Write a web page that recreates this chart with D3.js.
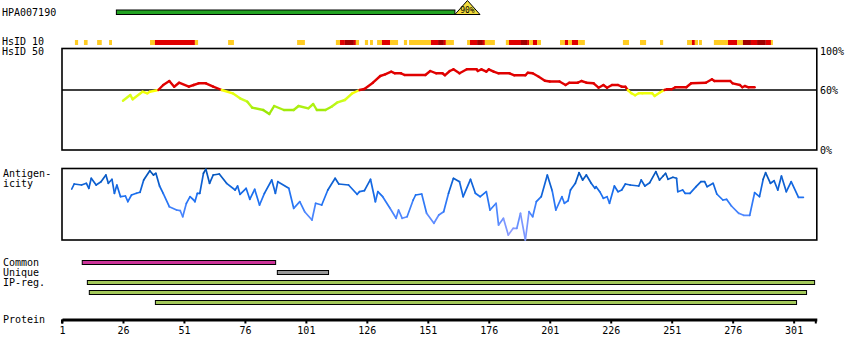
<!DOCTYPE html>
<html><head><meta charset="utf-8">
<script src="https://cdn.jsdelivr.net/npm/d3@7"></script>
<style>
body{margin:0;background:#fff;}
svg text{font-family:"DejaVu Sans Mono",monospace;font-size:10px;fill:#000;}
</style></head>
<body><svg id="c" width="850" height="360"></svg>
<script>
// ---------------- DATA ----------------
const antibodyName = "HPA007190";
const proteinLength = 310.5;
const tickValues = [1, 26, 51, 76, 101, 126, 151, 176, 201, 226, 251, 276, 301];
// antigen (PrEST) bar: [start, end] and identity triangle
const antigenBar = [23.3, 162.1];
const antigenTri = [162.1, 172.4];
const antigenIdentity = "90%";
// HsID 10 segments: [start, end, level] level 1 = low (orange), 2 = mid (red), 3 = high (dark red)
const hsid10 = [
  [6.3,7.6,1],[10.0,11.5,1],[15.4,17.3,1],[20.3,21.5,1],
  [37.1,39.1,1],[39.1,55.5,2],[55.5,56.8,1],
  [69.1,71.5,1],[97.4,100.6,1],
  [113.3,115.0,1],[115.0,117.0,2],[117.0,120.7,3],[120.7,121.5,2],[121.5,122.8,1],
  [125.2,126.5,1],[127.3,128.5,1],
  [130.2,132.2,1],[132.2,135.5,2],[135.5,138.8,1],
  [141.2,142.5,1],
  [143.3,152.3,1],[152.3,155.2,2],[155.2,157.6,3],[157.6,158.4,2],[158.4,161.7,1],
  [167.1,168.3,1],[168.3,171.2,2],[171.2,173.6,3],[173.6,174.4,2],[174.4,178.5,1],
  [183.0,184.3,1],[184.3,189.2,2],[189.2,191.7,3],[191.7,192.5,2],[192.5,194.1,1],[194.1,195.8,2],[195.8,197.4,1],
  [205.2,207.2,1],[207.2,208.5,2],[208.5,210.1,1],[210.1,212.6,2],[212.6,215.4,1],
  [231.0,233.5,1],[238.0,240.5,1],[246.2,247.5,1],
  [257.3,259.3,1],[259.3,260.5,2],[260.5,261.8,1],[262.2,263.4,1],
  [268.3,274.1,1],[274.1,277.8,2],[277.8,280.2,1],[280.2,283.5,3],[283.5,286.0,2],[286.0,289.6,3],[289.6,291.7,2],[291.7,292.5,1]
];
// HsID 50 identity (%) by residue
const hsid50Res = [26,29,30,34,36,37,40.5,42.5,45,47,49,53,55,57,60,63,66.5,71,74,77,79,83.5,86,88,92,96,98,102,104,105.5,109,111.5,114,117,120,123,125,128.5,131.5,133.5,136,137.5,140,141.5,150,152,154.5,157,158,160,161.5,164,167,171,171.5,173,175,176,178,180,184.5,186.5,191,192,194,196.5,199,201,205,207.5,209,212.5,214,216,219,221,223,224.5,226.5,229,230.5,232,233,234.5,236,237.5,239,243,244,246,248,249,251,252.5,257,259,265,267.5,268.5,275,276,279,280,281,282.5,285];
const hsid50Val = [49.3,55,50.7,58.3,56.7,58.3,60,65,69,63.3,67.3,63.3,65,66.7,66.7,63.3,60,56.7,51.7,48.3,42.3,40,36,44,40,40,44,41.7,46,40,40,43.3,47.7,50,56.7,60,61,67.3,74,75.7,78.3,76.7,76.7,75,75,79,76.7,76.7,74.7,79,80.7,76.7,80.7,80.7,79,80.7,78.3,80.7,78.3,76.7,76.7,74.7,74.7,77.3,76.7,73.3,69.3,68.5,68.5,65,67.3,67.3,69,67.3,66.7,62.3,65,62.3,65,65,63.3,63.3,60,56.7,54.7,56.7,56.7,56.7,54,57.3,60,60.7,60.7,62.7,62.7,66.7,67.3,70.7,69,69,66.7,65,62.7,64,62.7,62.7];
const hsid50Ticks = [100, 60, 0];
// Antigenicity score by residue
const antiRes = [5,6,9,11,12,13,15,17,19,20,21.5,22.5,23.5,25,27,28,29.5,31.5,33,34.5,37,38.5,39.5,41,42.5,45,48,49.5,50.5,52,53.5,55,55.5,56.5,57.5,59,60,61.5,63,65.5,68.5,72,73,74,76.5,78,80,82,84,87,88.5,89.5,94,96,98.5,100.5,103.5,105,107.5,110,113,114.5,118.5,122,123,125,127.5,129.5,130.5,132.5,135.5,138,139,140.5,142.5,145,146,148.5,150.5,153.5,155.5,157.5,159.5,161.5,164,165.5,168.5,170.5,172.5,175,176.5,179,180,182,184,186,187.5,189,191,192.5,194,195.5,197.5,200,202,203.5,206,207,208.5,209.5,211.5,213,214.5,216,218,219.5,220,221.5,223,224.5,225.5,227.5,229,230.5,232,234,237.5,238.5,240,242,244.5,246,247.5,248.5,249.5,251.5,253,253.5,255.5,256.5,258.5,261,263,264.5,265.5,268,269.5,272,273.5,275.5,278.5,280.5,283,285,287,288.5,289.5,291.5,293,294.5,296,298,300,303,305];
const antiVal = [51,56,55,56.7,51.7,61.7,55,58.3,65,56.7,60.7,46.7,55,43.3,44,38.3,45,46.7,47.7,60,69.3,65,66.7,54,46.7,33.3,30,29.3,23.3,36.7,43.3,40,38.3,46.7,46.7,66.7,70.7,56.7,65,66,56.7,50,54,45.7,51.7,40.7,50.7,35,46.7,60,46.7,58.3,51.7,31.7,38.3,28.3,20,36.7,35,50,61.7,56,55,45.7,48.3,49.3,60.7,38.3,48.3,43.3,31.7,21.7,30,21.7,23.3,40,45,46,26.7,16.7,25,28.3,46.7,61.7,58.3,43.3,60.7,46.7,43.3,48.3,30,36.7,15,21.7,5,11.7,11.7,26.7,0,28.3,23.3,38.3,43.3,65,49.3,30,43.3,36.7,39.3,50,56.7,67.3,60,65,56.7,51.7,53.3,48.3,41.7,43.3,36.7,54,48.3,50,56,55,54,60,54,57.3,68.3,60,64,66.7,60.7,62.7,61.7,48.3,50,46.7,46.7,53.3,58.3,58.3,53.3,56.7,46,40,40.7,34,26.7,24.7,24.7,47.3,43.3,60.7,67.3,56.7,59.3,50,64,48.3,58.3,42.7,42.7];
// Bottom feature tracks
const featureLabels = ["Common", "Unique", "IP-reg."];
const featureBars = [
  {track:"Common", start:9.3, end:88.6},
  {track:"Unique", start:89.3, end:110.3},
  {track:"IP-reg.", start:11.4, end:309.6},
  {track:"IP-reg.", start:12.2, end:306.3},
  {track:"IP-reg.", start:39.3, end:302.2}
];

// ---------------- DRAW ----------------
const svg = d3.select("#c");
const x = d3.scaleLinear().domain([1, proteinLength]).range([62, 816.8]);
const yId = d3.scaleLinear().domain([0, 100]).range([150, 50]);
const yAg = d3.scaleLinear().domain([0, 72]).range([240, 168]);

// Header
svg.append("text").attr("x", 2).attr("y", 16).text(antibodyName);
svg.append("rect").attr("x", x(antigenBar[0])).attr("y", 10)
  .attr("width", x(antigenBar[1]) - x(antigenBar[0])).attr("height", 4.5)
  .attr("fill", "#22a322").attr("stroke", "#000").attr("stroke-width", 1);
const tx0 = x(antigenTri[0]), tx1 = x(antigenTri[1]), tm = (tx0 + tx1) / 2;
svg.append("path").attr("d", `M${tx0},14.5 L${tm},0.5 L${tx1},14.5 Z`)
  .attr("fill", "#f2dc3c").attr("stroke", "#000").attr("stroke-width", 1);
svg.append("text").attr("x", tm).attr("y", 12.5).attr("text-anchor", "middle")
  .style("font-size", "8px").text(antigenIdentity);

// HsID labels
svg.append("text").attr("x", 2).attr("y", 45).text("HsID 10");
svg.append("text").attr("x", 2).attr("y", 55).text("HsID 50");

const lvlColor = {1: "#ffcc22", 2: "#e00000", 3: "#a00000"};
svg.append("g").selectAll("rect").data(hsid10).join("rect")
  .attr("x", d => x(d[0])).attr("y", 40)
  .attr("width", d => x(d[1]) - x(d[0])).attr("height", 5)
  .attr("fill", d => lvlColor[d[2]]);

// HsID 50 box
svg.append("rect").attr("x", x(1)).attr("y", 48.5)
  .attr("width", x(proteinLength) - x(1)).attr("height", 101.5)
  .attr("fill", "none").attr("stroke", "#000").attr("stroke-width", 1.6);
svg.append("line").attr("x1", x(1)).attr("x2", x(proteinLength))
  .attr("y1", yId(60)).attr("y2", yId(60)).attr("stroke", "#000").attr("stroke-width", 1.3);
hsid50Ticks.forEach(t => {
  const yy = t === 100 ? 55 : (t === 60 ? yId(60) + 3.5 : 153.5);
  svg.append("text").attr("x", 820).attr("y", yy).text(t + "%");
});
const idLow = d3.scaleLinear().domain([35, 50, 60]).range(["#8ce000", "#ccff20", "#ffff00"]).clamp(true);
const idColor = v => v >= 60 ? "#e00000" : idLow(v);
const idPts = hsid50Res.map((r, i) => [r, hsid50Val[i]]);
const segG = svg.append("g");
for (let i = 0; i < idPts.length - 1; i++) {
  const a = idPts[i], b = idPts[i + 1];
  const m = (a[1] + b[1]) / 2;
  segG.append("line").attr("x1", x(a[0])).attr("y1", yId(a[1]))
    .attr("x2", x(b[0])).attr("y2", yId(b[1]))
    .attr("stroke", idColor(m)).attr("stroke-width", 2.4).attr("stroke-linecap", "round");
}

// Antigenicity
svg.append("text").attr("x", 3).attr("y", 176.5).text("Antigen-");
svg.append("text").attr("x", 3).attr("y", 186.5).text("icity");
svg.append("rect").attr("x", x(1)).attr("y", 168.5)
  .attr("width", x(proteinLength) - x(1)).attr("height", 71.5)
  .attr("fill", "none").attr("stroke", "#000").attr("stroke-width", 1.6);
const agColor = d3.scaleLinear().domain([0, 25, 45, 70]).range(["#b0a8ff", "#5088ff", "#1a6ff0", "#0050b0"]).clamp(true);
const agPts = antiRes.map((r, i) => [r, antiVal[i]]);
const agG = svg.append("g");
for (let i = 0; i < agPts.length - 1; i++) {
  const a = agPts[i], b = agPts[i + 1];
  agG.append("line").attr("x1", x(a[0])).attr("y1", yAg(a[1]))
    .attr("x2", x(b[0])).attr("y2", yAg(b[1]))
    .attr("stroke", agColor((a[1] + b[1]) / 2)).attr("stroke-width", 1.7).attr("stroke-linecap", "round");
}

// Feature tracks
featureLabels.forEach((l, i) => {
  svg.append("text").attr("x", 3).attr("y", 266 + i * 10).text(l);
});
const barColor = {"Common": "#cc3399", "Unique": "#999999", "IP-reg.": "#a3c85a"};
const trackIdx = {"Common": 0, "Unique": 1};
let ipCount = 0;
featureBars.forEach(b => {
  let row = b.track === "IP-reg." ? 2 + (ipCount++) : trackIdx[b.track];
  svg.append("rect").attr("x", x(b.start)).attr("y", 260.5 + row * 10)
    .attr("width", x(b.end) - x(b.start)).attr("height", 4)
    .attr("fill", barColor[b.track]).attr("stroke", "#000").attr("stroke-width", 1);
});

// Protein axis
svg.append("text").attr("x", 3).attr("y", 323).text("Protein");
const axis = d3.axisBottom(x).tickValues(tickValues).tickSize(4).tickSizeOuter(0).tickPadding(3);
const ag = svg.append("g").attr("transform", "translate(0,319.5)").call(axis);
ag.select(".domain").attr("stroke", "#000").attr("stroke-width", 3);
ag.selectAll(".tick line").attr("stroke", "#000").attr("stroke-width", 2);
ag.selectAll(".tick text").style("font-family", "DejaVu Sans Mono").style("font-size", "10px");
ag.append("line").attr("x1", x(proteinLength) - 1).attr("x2", x(proteinLength) - 1)
  .attr("y1", 0).attr("y2", 4).attr("stroke", "#000").attr("stroke-width", 2);
ag.append("line").attr("x1", x(1)).attr("x2", x(1))
  .attr("y1", 0).attr("y2", 4).attr("stroke", "#000").attr("stroke-width", 2);
</script></body></html>
